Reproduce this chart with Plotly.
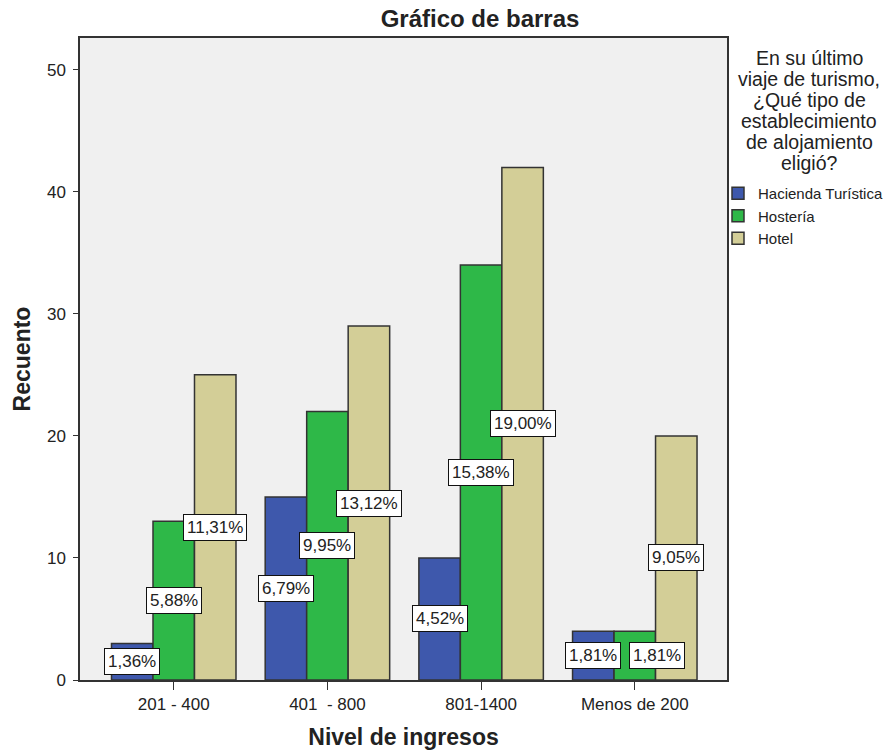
"""SPSS-style grouped bar chart: accommodation type by income level."""

import plotly.graph_objects as go

CATEGORIES = ["201 - 400", "401  - 800", "801-1400", "Menos de 200"]
SERIES = ["Hacienda Turística", "Hostería", "Hotel"]
COUNTS = {
    "Hacienda Turística": [3, 15, 10, 4],
    "Hostería": [13, 22, 34, 4],
    "Hotel": [25, 29, 42, 20],
}
PERCENT_LABELS = {
    "Hacienda Turística": ["1,36%", "6,79%", "4,52%", "1,81%"],
    "Hostería": ["5,88%", "9,95%", "15,38%", "1,81%"],
    "Hotel": ["11,31%", "13,12%", "19,00%", "9,05%"],
}
COLORS = {
    "Hacienda Turística": "#3E58AC",
    "Hostería": "#2EB848",
    "Hotel": "#D3CE97",
}
Y_TICKS = [0, 10, 20, 30, 40, 50]
LEGEND_TITLE = [
    "En su último",
    "viaje de turismo,",
    "¿Qué tipo de",
    "establecimiento",
    "de alojamiento",
    "eligió?",
]

FONT = "Liberation Sans, Arial, sans-serif"
TEXT = "#222222"
WIDTH, HEIGHT = 893, 751
MARGIN = dict(l=80, r=166, t=38, b=71, pad=0, autoexpand=False)
PLOT_W = WIDTH - MARGIN["l"] - MARGIN["r"]
PLOT_H = HEIGHT - MARGIN["t"] - MARGIN["b"]
X_RANGE = [-0.61, 3.6]
Y_RANGE = [0, 52.6]
BARGAP = 0.19
LABEL_SIZE = 17
LABEL_PAD = 3


def px_x(x):
    return (x - MARGIN["l"]) / PLOT_W


def px_y(y):
    return 1 - (y - MARGIN["t"]) / PLOT_H


def label_width(text):
    # rough Arial advance widths, enough to keep neighbouring boxes apart
    em = sum(0.278 if ch == "," else 0.889 if ch == "%" else 0.556 for ch in text)
    return em * LABEL_SIZE + 2 * LABEL_PAD + 2


fig = go.Figure()
for name in SERIES:
    fig.add_bar(
        x=CATEGORIES,
        y=COUNTS[name],
        name=name,
        marker=dict(color=COLORS[name], line=dict(color="#333333", width=1.5)),
    )

# Percentage boxes sit at half the bar height, centred on each bar; when two
# boxes in a group would collide, the later one is pushed right (as SPSS does).
unit_px = PLOT_W / (X_RANGE[1] - X_RANGE[0])
y_unit_px = PLOT_H / (Y_RANGE[1] - Y_RANGE[0])
bar_px = unit_px * (1 - BARGAP) / len(SERIES)
for j, cat in enumerate(CATEGORIES):
    prev = None
    for i, name in enumerate(SERIES):
        val, lab = COUNTS[name][j], PERCENT_LABELS[name][j]
        shift = (i - (len(SERIES) - 1) / 2) * bar_px
        w = label_width(lab)
        if prev is not None:
            prev_right, prev_y = prev
            if abs(val / 2 - prev_y) * y_unit_px < 27 and shift - w / 2 < prev_right + 8:
                shift = prev_right + 8 + w / 2
        prev = (shift + w / 2, val / 2)
        fig.add_annotation(
            x=cat,
            y=val / 2,
            text=lab,
            showarrow=False,
            xshift=shift,
            bgcolor="white",
            bordercolor="#111111",
            borderwidth=1,
            borderpad=LABEL_PAD,
            font=dict(family=FONT, size=LABEL_SIZE, color=TEXT),
        )

# Legend heading, one line per annotation to keep SPSS's tight line spacing.
for k, line in enumerate(LEGEND_TITLE):
    fig.add_annotation(
        xref="paper",
        yref="paper",
        x=px_x(809),
        y=px_y(58 + 21 * k),
        xanchor="center",
        yanchor="middle",
        showarrow=False,
        text=line,
        font=dict(family=FONT, size=19.5, color=TEXT),
    )

fig.update_layout(
    width=WIDTH,
    height=HEIGHT,
    margin=MARGIN,
    barmode="group",
    bargap=BARGAP,
    bargroupgap=0,
    paper_bgcolor="white",
    plot_bgcolor="#F0F0F0",
    font=dict(family=FONT, size=17, color=TEXT),
    title=dict(
        text="<b>Gráfico de barras</b>",
        x=480 / WIDTH,
        xanchor="center",
        y=1 - 19 / HEIGHT,
        yanchor="middle",
        font=dict(family=FONT, size=24, color=TEXT),
    ),
    legend=dict(
        x=px_x(718),
        y=px_y(177),
        xanchor="left",
        yanchor="top",
        font=dict(family=FONT, size=15, color=TEXT),
        bgcolor="rgba(0,0,0,0)",
        itemwidth=30,
        tracegroupgap=0,
    ),
)
fig.update_xaxes(
    type="category",
    range=X_RANGE,
    showgrid=False,
    showline=True,
    linecolor="#333333",
    linewidth=1.5,
    mirror=True,
    ticks="outside",
    ticklen=8,
    tickcolor="#333333",
    tickfont=dict(family=FONT, size=17, color=TEXT),
    title=dict(
        text="<b>Nivel de ingresos</b>",
        font=dict(family=FONT, size=23, color=TEXT),
        standoff=16,
    ),
)
fig.update_yaxes(
    range=Y_RANGE,
    tickvals=Y_TICKS,
    showgrid=False,
    zeroline=False,
    showline=True,
    linecolor="#333333",
    linewidth=1.5,
    mirror=True,
    ticks="outside",
    ticklen=5,
    tickcolor="#333333",
    ticklabelstandoff=4,
    tickfont=dict(family=FONT, size=17, color=TEXT),
    title=dict(
        text="<b>Recuento</b>",
        font=dict(family=FONT, size=23, color=TEXT),
        standoff=10,
    ),
)

# Drop the page's default body margin so the figure fills the window exactly.
fig.write_html(
    "out.html",
    config={"displayModeBar": False},
    post_script="document.body.style.margin = '0';",
)
